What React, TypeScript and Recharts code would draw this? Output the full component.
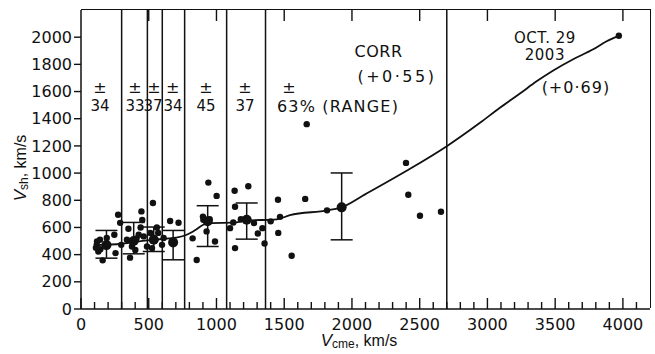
import { ComposedChart, Scatter, Line, XAxis, YAxis, ReferenceLine, ReferenceDot, ErrorBar } from 'recharts'

const INK = '#111'
const LETTER = '"DejaVu Sans", sans-serif'
const TITLE = '"Liberation Sans", Arial, sans-serif'

// individual events (Vcme, Vsh) in km/s
const events = [
  { x: 110, y: 450 }, { x: 116, y: 472 }, { x: 118, y: 497 }, { x: 128, y: 423 }, { x: 140, y: 509 },
  { x: 143, y: 440 }, { x: 160, y: 358 }, { x: 190, y: 522 }, { x: 246, y: 546 }, { x: 255, y: 411 },
  { x: 274, y: 694 }, { x: 289, y: 634 }, { x: 297, y: 472 },
  { x: 339, y: 509 }, { x: 350, y: 590 }, { x: 362, y: 378 }, { x: 376, y: 460 }, { x: 401, y: 435 },
  { x: 410, y: 520 }, { x: 426, y: 546 }, { x: 440, y: 600 }, { x: 446, y: 718 }, { x: 452, y: 655 },
  { x: 463, y: 534 }, { x: 487, y: 460 },
  { x: 512, y: 559 }, { x: 524, y: 448 }, { x: 531, y: 780 }, { x: 548, y: 509 }, { x: 560, y: 600 },
  { x: 570, y: 560 }, { x: 598, y: 472 },
  { x: 610, y: 522 }, { x: 658, y: 647 }, { x: 720, y: 635 },
  { x: 824, y: 520 }, { x: 854, y: 360 }, { x: 900, y: 680 }, { x: 903, y: 657 }, { x: 927, y: 571 },
  { x: 940, y: 930 }, { x: 950, y: 660 }, { x: 989, y: 497 }, { x: 1001, y: 832 },
  { x: 1100, y: 595 }, { x: 1124, y: 637 }, { x: 1134, y: 870 }, { x: 1137, y: 752 }, { x: 1137, y: 448 },
  { x: 1180, y: 660 }, { x: 1235, y: 903 }, { x: 1277, y: 632 }, { x: 1305, y: 556 }, { x: 1339, y: 595 },
  { x: 1355, y: 482 },
  { x: 1400, y: 645 }, { x: 1454, y: 804 }, { x: 1456, y: 560 }, { x: 1469, y: 678 }, { x: 1555, y: 392 },
  { x: 1655, y: 810 }, { x: 1666, y: 1360 }, { x: 1816, y: 726 }, { x: 2399, y: 1075 }, { x: 2416, y: 841 },
  { x: 2502, y: 686 }, { x: 2657, y: 716 }, { x: 3970, y: 2010 },
]

// bin means with [lower, upper] range
const binMeans = [
  { x: 188, y: 470, err: [96, 108] },
  { x: 389, y: 500, err: [94, 137] },
  { x: 537, y: 510, err: [87, 93] },
  { x: 680, y: 490, err: [128, 88] },
  { x: 935, y: 645, err: [185, 115] },
  { x: 1223, y: 657, err: [143, 123] },
  { x: 1924, y: 748, err: [239, 253] },
]

const trend = [
  { x: 110, y: 470 }, { x: 300, y: 480 }, { x: 490, y: 505 }, { x: 600, y: 515 }, { x: 700, y: 525 },
  { x: 780, y: 546 }, { x: 850, y: 585 }, { x: 903, y: 620 }, { x: 960, y: 632 }, { x: 1124, y: 635 },
  { x: 1223, y: 650 }, { x: 1444, y: 660 }, { x: 1542, y: 690 }, { x: 1820, y: 726 }, { x: 1924, y: 748 },
  { x: 2100, y: 845 }, { x: 2400, y: 1015 }, { x: 2700, y: 1198 }, { x: 2945, y: 1370 }, { x: 3092, y: 1481 },
  { x: 3240, y: 1585 }, { x: 3363, y: 1675 }, { x: 3486, y: 1755 }, { x: 3633, y: 1838 }, { x: 3781, y: 1911 },
  { x: 3880, y: 1970 }, { x: 3970, y: 2010 },
]

const binEdges = [300, 490, 600, 765, 1075, 1362, 2700]
const binSpread = ['34', '33', '37', '34', '45', '37', '63% (RANGE)']
const binPlusX = [140, 399, 539, 677, 923, 1210, 1535]
const binNumX = [140, 399, 532, 680, 923, 1210, 1446]

const xTicks = Array.from({ length: 42 }, (_, i) => i * 100)
const yTicks = [0, 200, 400, 600, 800, 1000, 1200, 1400, 1600, 1800, 2000]

const notes = [
  { x: 2196, y: 1897, text: 'CORR', spacing: 0.5, size: 16 },
  { x: 2332, y: 1712, text: '(+0·55)', spacing: 2.5, size: 16 },
  { x: 3424, y: 1992, text: 'OCT. 29', spacing: 0.5, size: 15 },
  { x: 3424, y: 1872, text: '2003', spacing: 0.5, size: 15 },
  { x: 3653, y: 1631, text: '(+0·69)', spacing: 1, size: 16 },
]

// chart box
const W = 655
const H = 354
const M = { top: 10, right: 5, left: 0, bottom: 0 }
const Y_AXIS_W = 81
const X_AXIS_H = 45
const PLOT_W = W - M.left - M.right - Y_AXIS_W
const PLOT_H = H - M.top - M.bottom - X_AXIS_H

const BottomTick = (props: any) => {
  const { x, y, payload } = props
  const v = payload.value
  const major = v % 500 === 0
  return (
    <g>
      <line x1={x} x2={x} y1={y} y2={y - (major ? 11 : 7)} stroke={INK} strokeWidth={1.4} />
      {/* matching inward tick on the top frame */}
      {major && v > 0 && v <= 4000 && (
        <line x1={x} x2={x} y1={y - PLOT_H} y2={y - PLOT_H + 11} stroke={INK} strokeWidth={1.4} />
      )}
      {major && v <= 4000 && (
        <text x={x} y={y + 15} textAnchor="middle" dominantBaseline="central" fontFamily={LETTER} fontSize={16} fill={INK}>
          {v}
        </text>
      )}
    </g>
  )
}

const YTitle = (props: any) => {
  const { viewBox } = props
  const cx = viewBox.x + 20
  const cy = viewBox.y + 158
  return (
    <text x={cx} y={cy} transform={`rotate(-90, ${cx}, ${cy})`} textAnchor="middle" dominantBaseline="central" fontFamily={TITLE} fontSize={16} fill={INK}>
      <tspan fontStyle="italic" fontSize={17}>V</tspan>
      <tspan fontSize={12} dy={4}>sh</tspan>
      <tspan dy={-4}>, km/s</tspan>
    </text>
  )
}

const XTitle = (props: any) => {
  const { viewBox } = props
  const cx = viewBox.x + 278
  const cy = viewBox.y + 31
  return (
    <text x={cx} y={cy} textAnchor="middle" dominantBaseline="central" fontFamily={TITLE} fontSize={16} fill={INK}>
      <tspan fontStyle="italic" fontSize={17}>V</tspan>
      <tspan fontSize={12} dy={4}>cme</tspan>
      <tspan dy={-4}>, km/s</tspan>
    </text>
  )
}

const smallDot = (p: any) => <circle cx={p.cx} cy={p.cy} r={3.2} fill={INK} />
const bigDot = (p: any) => <circle cx={p.cx} cy={p.cy} r={5} fill={INK} />

const note = (text: string, anchor: string, spacing: number, size = 16) => (p: any) => (
  <text x={p.cx} y={p.cy} textAnchor={anchor} dominantBaseline="central" fontFamily={LETTER} fontSize={size} letterSpacing={spacing} fill={INK}>
    {text}
  </text>
)

const App = () => {
  return (
    <div style={{ position: 'absolute', left: 0, top: 0, width: W, height: H, background: '#fff' }}>
      <ComposedChart width={W} height={H} margin={M}>
        <XAxis
          dataKey="x"
          type="number"
          domain={[0, 4200]}
          ticks={xTicks}
          interval={0}
          height={X_AXIS_H}
          axisLine={{ stroke: INK, strokeWidth: 1.5 }}
          tickLine={false}
          tickSize={0}
          tickMargin={0}
          tick={<BottomTick />}
          label={<XTitle />}
        />
        <YAxis
          dataKey="y"
          type="number"
          domain={[0, 2200]}
          ticks={yTicks}
          interval={0}
          width={Y_AXIS_W}
          axisLine={{ stroke: INK, strokeWidth: 1.5 }}
          tickLine={{ stroke: INK, strokeWidth: 1.4 }}
          tickSize={7}
          tickMargin={2}
          tick={{ fill: INK, fontFamily: LETTER, fontSize: 16 }}
          label={<YTitle />}
        />
        {binEdges.map((e) => (
          <ReferenceLine key={e} x={e} stroke={INK} strokeWidth={1.5} />
        ))}
        <Line
          data={trend}
          dataKey="y"
          type="monotone"
          stroke={INK}
          strokeWidth={1.8}
          dot={false}
          isAnimationActive={false}
        />
        <Scatter data={events} fill={INK} shape={smallDot} isAnimationActive={false} />
        <Scatter data={binMeans} fill={INK} shape={bigDot} isAnimationActive={false}>
          <ErrorBar dataKey="err" direction="y" width={11} stroke={INK} strokeWidth={1.5} />
        </Scatter>
        {binSpread.map((s, i) => (
          <ReferenceDot key={'p' + i} x={binPlusX[i]} y={1631} r={0} shape={note('±', 'middle', 0)} />
        ))}
        {binSpread.map((s, i) => (
          <ReferenceDot
            key={'n' + i}
            x={binNumX[i]}
            y={1491}
            r={0}
            shape={note(s, i === binSpread.length - 1 ? 'start' : 'middle', i === binSpread.length - 1 ? 1.2 : 0, i === 6 ? 16 : 15)}
          />
        ))}
        {notes.map((n) => (
          <ReferenceDot key={n.text} x={n.x} y={n.y} r={0} shape={note(n.text, 'middle', n.spacing, n.size)} />
        ))}
      </ComposedChart>
      {/* top and right edges of the plot frame */}
      <div
        style={{
          position: 'absolute',
          left: M.left + Y_AXIS_W,
          top: M.top - 0.75,
          width: PLOT_W + 0.75,
          height: PLOT_H,
          boxSizing: 'border-box',
          borderTop: `1.5px solid ${INK}`,
          borderRight: `1.5px solid ${INK}`,
          pointerEvents: 'none',
        }}
      />
    </div>
  )
}

export default App
